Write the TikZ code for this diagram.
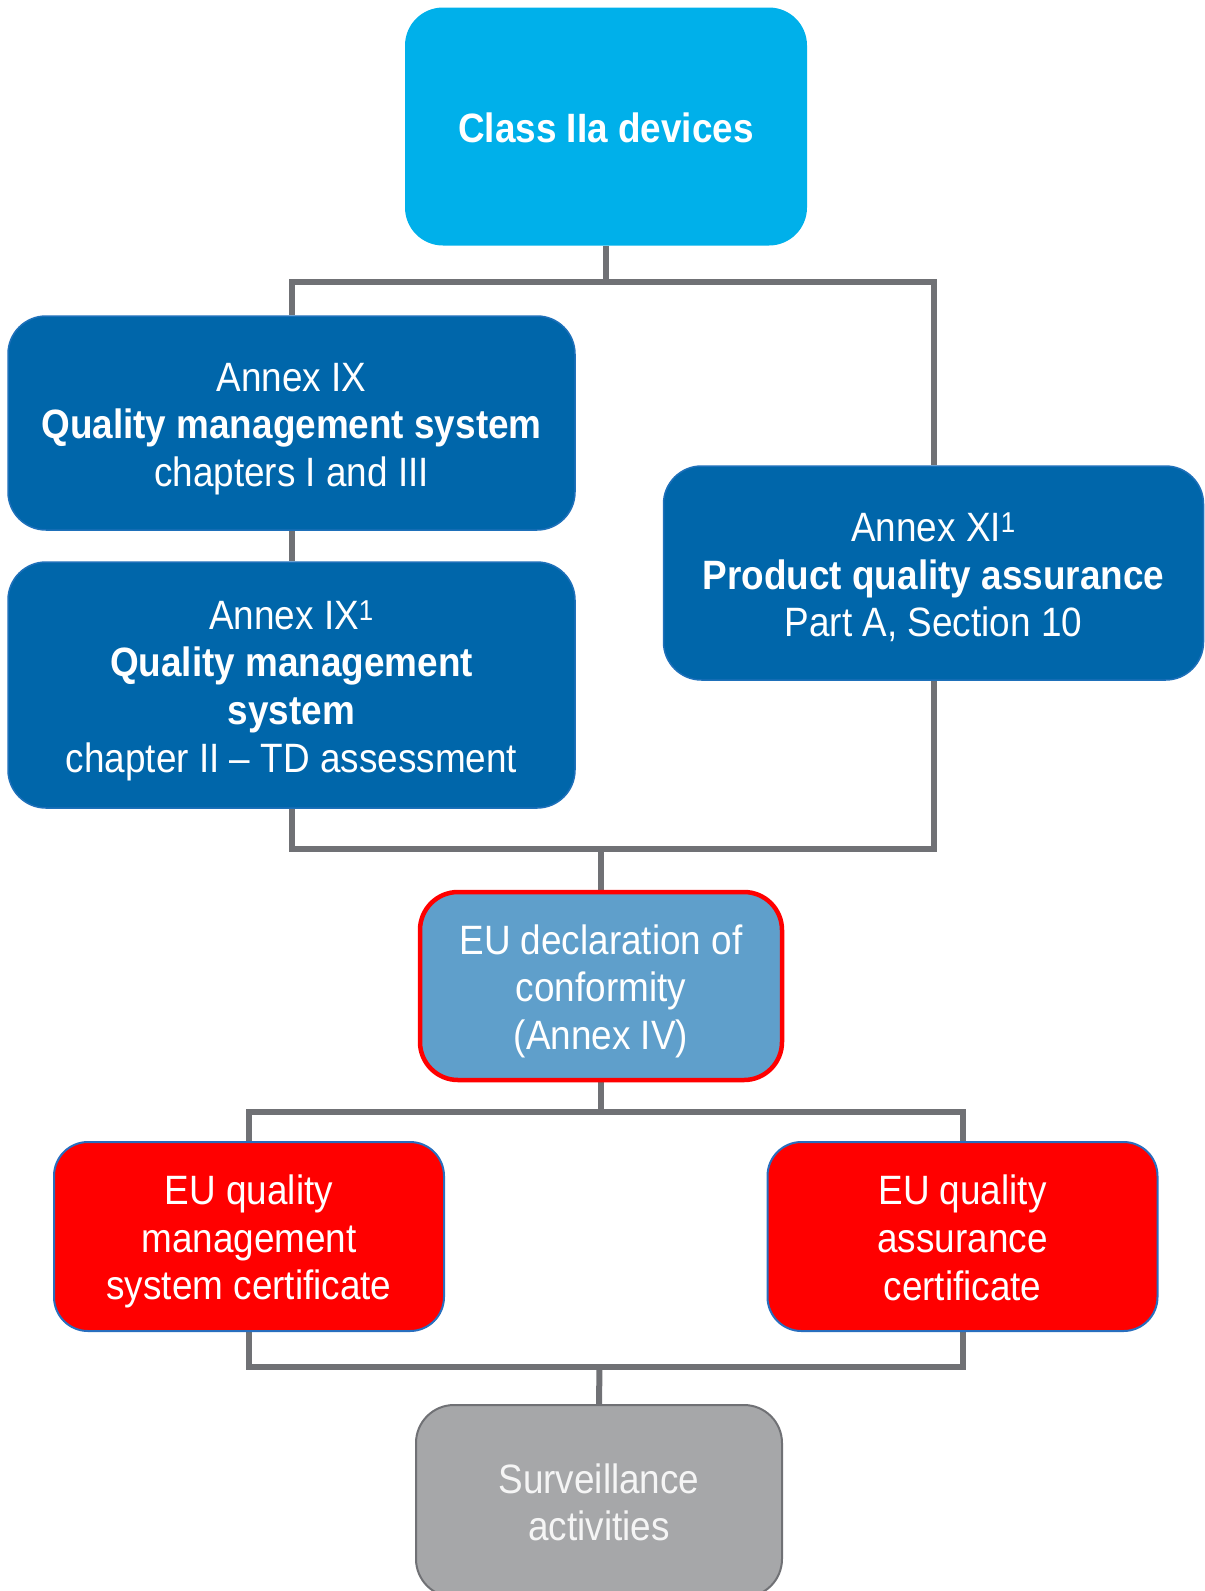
\documentclass[tikz,border=0pt]{standalone}
\usepackage{fontspec}
\setmainfont[FakeStretch=0.9]{Liberation Sans}
\usetikzlibrary{backgrounds}

\definecolor{cyanbox}{RGB}{0,176,234}
\definecolor{darkblue}{RGB}{0,102,170}
\definecolor{darkblueedge}{RGB}{30,112,186}
\definecolor{midblue}{RGB}{95,159,203}
\definecolor{certred}{RGB}{255,0,0}
\definecolor{certedge}{RGB}{40,110,190}
\definecolor{survgray}{RGB}{166,167,169}
\definecolor{survedge}{RGB}{112,113,117}
\definecolor{linkgray}{RGB}{112,113,117}

% struts: the first line carries extra head room, every line the same descent
\newcommand{\lsf}{\rule[-8pt]{0pt}{48pt}}
\newcommand{\ls}{\rule[-8pt]{0pt}{38pt}}

\tikzset{
  boxbase/.style={rectangle, rounded corners=38pt, inner sep=0pt, align=center,
    text=white, font=\fontsize{41}{47.7}\selectfont},
  topbox/.style={boxbase, fill=cyanbox, draw=none},
  annexbox/.style={boxbase, fill=darkblue, draw=darkblueedge, line width=1.5pt},
  declbox/.style={boxbase, fill=midblue, draw=certred, line width=4.5pt},
  certbox/.style={boxbase, rounded corners=34pt, fill=certred, draw=certedge, line width=2pt},
  survbox/.style={boxbase, fill=survgray, draw=survedge, line width=2pt, text={rgb,255:red,245;green,245;blue,245}},
  link/.style={draw=linkgray, line width=6pt, line join=miter},
}

\begin{document}
\begin{tikzpicture}[x=1pt, y=-1pt]
  \useasboundingbox (0,0) rectangle (1205,1591);
  \clip (0,0) rectangle (1205,1591);

  % boxes
  \node[topbox, minimum width=402pt, minimum height=238pt] (top) at (606,126.5)
    {\lsf\textbf{Class IIa devices}};
  \node[annexbox, minimum width=567pt, minimum height=214pt] (ix) at (291.5,423)
    {\lsf Annex IX\\ \ls\textbf{Quality management system}\\ \ls chapters I and III};
  \node[annexbox, minimum width=567pt, minimum height=246pt] (ixb) at (291.5,685)
    {\lsf Annex IX\textsuperscript{1}\\ \ls\textbf{Quality management}\\ \ls\textbf{system}\\ \ls chapter II -- TD assessment};
  \node[annexbox, minimum width=540pt, minimum height=214pt] (xi) at (933.5,573)
    {\lsf Annex XI\textsuperscript{1}\\ \ls\textbf{Product quality assurance}\\ \ls Part A, Section 10};
  \node[declbox, minimum width=362pt, minimum height=188pt] (decl) at (601,986)
    {\lsf EU declaration of\\ \ls conformity\\ \ls (Annex IV)};
  \node[certbox, minimum width=390pt, minimum height=189pt] (qms) at (249,1236.5)
    {\lsf EU quality\\ \ls management\\ \ls system certificate};
  \node[certbox, minimum width=390pt, minimum height=189pt] (qa) at (962.5,1236.5)
    {\lsf EU quality\\ \ls assurance\\ \ls certificate};
  \node[survbox, minimum width=366pt, minimum height=192pt] (surv) at (599,1501)
    {\lsf Surveillance\\ \ls activities};

  % junction points of the connector tree
  \coordinate (j1) at (606,282);
  \coordinate (j2) at (601,849);
  \coordinate (j3) at (601,1112);
  \coordinate (j4) at (599.5,1367);

  \begin{scope}[on background layer]
    \draw[link] (top.south) -- (j1);
    \draw[link] (ix.north) |- (j1) -| (xi.north);
    \draw[link] (ix.south) -- (ixb.north);
    \draw[link] (ixb.south) |- (j2) -| (xi.south);
    \draw[link] (j2) -- (decl.north);
    \draw[link] (decl.south) -- (j3);
    \draw[link] (qms.north) |- (j3) -| (qa.north);
    \draw[link] (qms.south) |- (j4) -| (qa.south);
    \draw[link] (j4) -- (surv.north);
  \end{scope}
\end{tikzpicture}
\end{document}
